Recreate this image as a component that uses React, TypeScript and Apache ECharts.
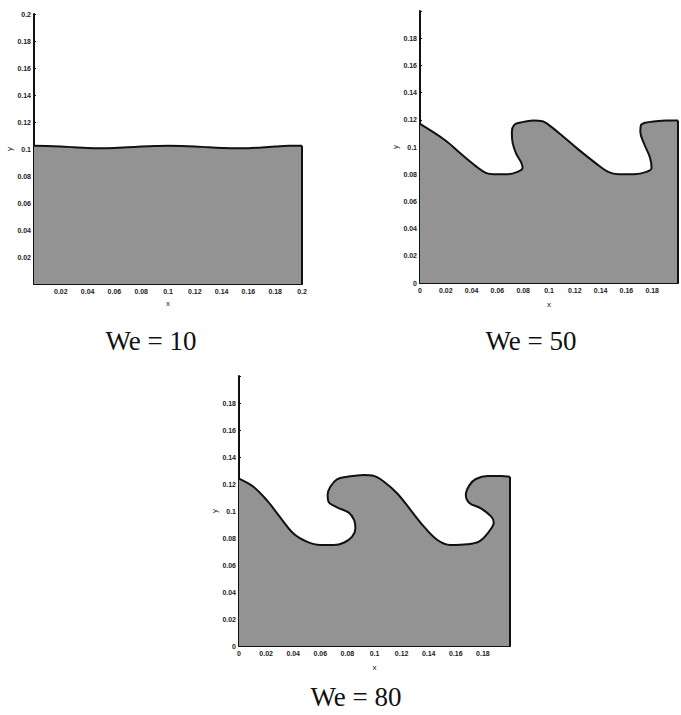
import React, { useEffect, useRef } from "react";
import * as echarts from "echarts";

// We = 10 surface
const x10 = [0, 0.01, 0.02, 0.03, 0.04, 0.05, 0.06, 0.07, 0.08, 0.09, 0.1, 0.11, 0.12, 0.13, 0.14, 0.15, 0.16, 0.17, 0.18, 0.19, 0.2];
const y10 = [0.1024, 0.1023, 0.1019, 0.1013, 0.1008, 0.1006, 0.1008, 0.1013, 0.1018, 0.1022, 0.1024, 0.1023, 0.1019, 0.1013, 0.1008, 0.1005, 0.1006, 0.1012, 0.1018, 0.1024, 0.1024];

// We = 50 surface
const x50 = [0, 0.0195, 0.0317, 0.044, 0.051, 0.057, 0.068, 0.0756, 0.0795, 0.0785, 0.0746, 0.0718, 0.0712, 0.073, 0.078, 0.0878, 0.095, 0.0988, 0.11, 0.122, 0.1366, 0.146, 0.1537, 0.166, 0.1756, 0.1795, 0.1782, 0.1737, 0.1708, 0.1712, 0.1744, 0.183, 0.191, 0.2];
const y50 = [0.117, 0.105, 0.095, 0.0854, 0.081, 0.08, 0.08, 0.0817, 0.0845, 0.0885, 0.095, 0.103, 0.111, 0.1163, 0.118, 0.1195, 0.119, 0.117, 0.1085, 0.0988, 0.0878, 0.0817, 0.08, 0.08, 0.0817, 0.0845, 0.0925, 0.1024, 0.111, 0.1158, 0.1178, 0.119, 0.1195, 0.1195];

// We = 80 surface
const x80 = [0, 0.0106, 0.0205, 0.03, 0.04, 0.05, 0.06, 0.07, 0.0773, 0.0835, 0.0859, 0.085, 0.081, 0.0723, 0.066, 0.0654, 0.0674, 0.0723, 0.08, 0.092, 0.0995, 0.107, 0.1168, 0.1267, 0.1365, 0.1464, 0.156, 0.1686, 0.177, 0.1835, 0.188, 0.1862, 0.1785, 0.17, 0.1674, 0.17, 0.1748, 0.1835, 0.193, 0.2];
const y80 = [0.124, 0.118, 0.108, 0.0958, 0.0835, 0.0773, 0.0748, 0.0748, 0.0765, 0.081, 0.087, 0.0933, 0.0988, 0.1027, 0.107, 0.112, 0.118, 0.1235, 0.1254, 0.1267, 0.126, 0.1217, 0.113, 0.1007, 0.0884, 0.0785, 0.0748, 0.0753, 0.0773, 0.0835, 0.0914, 0.0958, 0.102, 0.106, 0.1118, 0.119, 0.1237, 0.126, 0.126, 0.1254];

const captions = ["We = 10", "We = 50", "We = 80"];

const pairs = (xs: number[], ys: number[]) => xs.map((x, i) => [x, ys[i]]);

export default function App() {
  const ref = useRef<HTMLDivElement>(null);
  useEffect(() => {
    if (!ref.current) return;
    const chart = echarts.init(ref.current, undefined, { renderer: "svg" });
    const grids = [
      { left: 34, top: 14, width: 268, height: 270 },
      { left: 420, top: 11, width: 273, height: 272 },
      { left: 239, top: 376, width: 271, height: 270 },
    ];
    const labelFont = { fontSize: 7, fontWeight: "bold" as const, color: "#222", fontFamily: "Liberation Sans" };
    const fmt = (hideZero: boolean, hideTop: boolean) => (v: number) => {
      if (hideZero && Math.abs(v) < 1e-9) return "";
      if (hideTop && Math.abs(v - 0.2) < 1e-9) return "";
      return String(Math.round(v * 100) / 100);
    };
    const xAxes = grids.map((_, i) => ({
      type: "value",
      gridIndex: i,
      min: 0,
      max: 0.2,
      interval: 0.02,
      name: "x",
      nameLocation: "middle",
      nameGap: i === 0 ? 15 : 17,
      nameTextStyle: { fontSize: 8, color: "#222", fontFamily: "Liberation Sans" },
      axisLine: { show: true, lineStyle: { color: "#111", width: 2 } },
      axisTick: { show: true, inside: true, length: 2, lineStyle: { color: "#111" } },
      axisLabel: { ...labelFont, margin: 4, formatter: fmt(i === 0, i !== 0) },
      splitLine: { show: false },
    }));
    const yAxes = grids.map((_, i) => ({
      type: "value",
      gridIndex: i,
      min: 0,
      max: 0.2,
      interval: 0.02,
      name: "y",
      nameLocation: "middle",
      nameGap: i === 2 ? 18 : 19,
      nameRotate: 90,
      nameTextStyle: { fontSize: 8, color: "#222", fontFamily: "Liberation Sans" },
      axisLine: { show: true, lineStyle: { color: "#111", width: 2 } },
      axisTick: { show: true, inside: true, length: 2, lineStyle: { color: "#111" } },
      axisLabel: { ...labelFont, margin: 3, formatter: fmt(i === 0, i !== 0) },
      splitLine: { show: false },
    }));
    const surfaces = [pairs(x10, y10), pairs(x50, y50), pairs(x80, y80)];
    const series: any[] = [];
    surfaces.forEach((d, i) => {
      series.push({
        type: "line",
        xAxisIndex: i,
        yAxisIndex: i,
        data: d,
        smooth: 0.35,
        showSymbol: false,
        symbol: "none",
        lineStyle: { color: "#111", width: 2 },
        areaStyle: { color: "#939393", opacity: 1, origin: "start" },
        clip: true,
        z: 2,
      });
      const last = d[d.length - 1];
      series.push({
        type: "line",
        xAxisIndex: i,
        yAxisIndex: i,
        data: [last, [last[0], 0]],
        showSymbol: false,
        symbol: "none",
        lineStyle: { color: "#111", width: 2 },
        clip: false,
        z: 3,
      });
    });
    const capPos = [
      [151, 341],
      [531, 341],
      [356, 697],
    ];
    chart.setOption({
      animation: false,
      backgroundColor: "#fff",
      grid: grids,
      xAxis: xAxes,
      yAxis: yAxes,
      series,
      graphic: captions.map((t, i) => ({
        type: "text",
        x: capPos[i][0],
        y: capPos[i][1],
        style: {
          text: t,
          fontSize: 27,
          fontFamily: "Liberation Serif",
          fill: "#111",
          align: "center",
          verticalAlign: "middle",
          textAlign: "center",
          textVerticalAlign: "middle",
        },
      })),
    });
    return () => chart.dispose();
  }, []);
  return (
    <div
      ref={ref}
      style={{ position: "fixed", left: 0, top: 0, width: 681, height: 715, background: "#fff" }}
    />
  );
}
